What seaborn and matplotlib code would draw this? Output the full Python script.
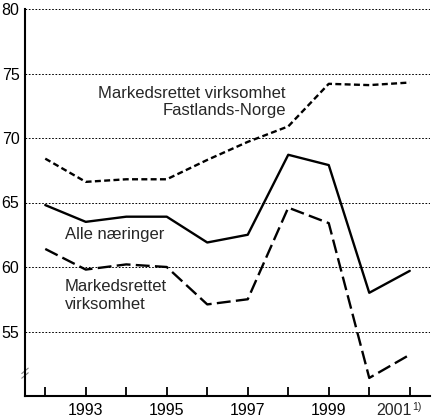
import matplotlib
matplotlib.use("Agg")
import matplotlib.pyplot as plt
import seaborn as sns
import pandas as pd

# Data
years = [1992, 1993, 1994, 1995, 1996, 1997, 1998, 1999, 2000, 2001]
fastlands = [68.4, 66.6, 66.8, 66.8, 68.3, 69.7, 70.9, 74.2, 74.1, 74.3]
alle = [64.8, 63.5, 63.9, 63.9, 61.9, 62.5, 68.7, 67.9, 58.0, 59.7]
markedsrettet = [61.4, 59.8, 60.2, 60.0, 57.1, 57.5, 64.6, 63.4, 51.4, 53.2]
series_names = ["Fastlands", "Alle", "Markedsrettet"]
yticks = [55, 60, 65, 70, 75, 80]
xtick_labels = ["", "1993", "", "1995", "", "1997", "", "1999", "", ""]
last_label = "2001"
footnote = "1)"

df = pd.DataFrame({
    "year": years * 3,
    "value": fastlands + alle + markedsrettet,
    "series": [n for n in series_names for _ in years],
})

sns.set_style("white")
plt.rcParams["font.family"] = ["Liberation Sans", "DejaVu Sans"]
plt.rcParams["lines.scale_dashes"] = False

fig = plt.figure(figsize=(4.36, 4.20), dpi=100)
ax = fig.add_axes([25 / 436, 24 / 420, 405 / 436, 387 / 420])

sns.lineplot(
    data=df, x="year", y="value", hue="series", style="series",
    palette={n: "black" for n in series_names},
    dashes={"Fastlands": (4.3, 2.4), "Alle": "", "Markedsrettet": (10, 3.8)},
    linewidth=1.7, legend=False, ax=ax,
)

ax.set_xlim(1991.5, 2001.5)
ax.set_ylim(50, 80)
ax.set_xticks(years)
ax.set_xticklabels(xtick_labels, fontsize=11.5)
ax.set_yticks(yticks)
ax.set_yticklabels([str(v) for v in yticks], fontsize=11.5)
ax.set_xlabel("")
ax.set_ylabel("")

# last year label sits left of its tick, followed by footnote marker
ax.annotate(last_label, xy=(years[-1], 0), xycoords=("data", "axes fraction"),
            xytext=(1, -5), textcoords="offset points", fontsize=11.5,
            ha="right", va="top", annotation_clip=False)
ax.annotate(footnote, xy=(years[-1], 0), xycoords=("data", "axes fraction"),
            xytext=(2, -8), textcoords="offset points", fontsize=7.5,
            ha="left", va="center", annotation_clip=False)

for v in yticks:
    ax.axhline(v, color="black", linestyle=(0, (1.2, 1.2)), linewidth=0.7, zorder=0)

for s in ["top", "right"]:
    ax.spines[s].set_visible(False)
for s in ["left", "bottom"]:
    ax.spines[s].set_linewidth(1.5)
    ax.spines[s].set_color("black")

ax.tick_params(axis="x", bottom=True, direction="in", length=6.5, width=1.3, pad=5, colors="black")
ax.tick_params(axis="y", left=False, length=0, pad=4, colors="black")

# axis break mark
for dy in (-0.006, 0.006):
    ax.plot([-0.008, 0.008], [0.052 + dy, 0.066 + dy], transform=ax.transAxes,
            color="gray", linewidth=0.8, clip_on=False)

ax.text(1997.94, 72.8, "Markedsrettet virksomhet\nFastlands-Norge",
        ha="right", va="center", multialignment="right", fontsize=12)
ax.text(1992.49, 62.5, "Alle næringer", ha="left", va="center", fontsize=12)
ax.text(1992.49, 57.8, "Markedsrettet\nvirksomhet", ha="left", va="center", fontsize=12)

fig.savefig("out.png", dpi=100)
